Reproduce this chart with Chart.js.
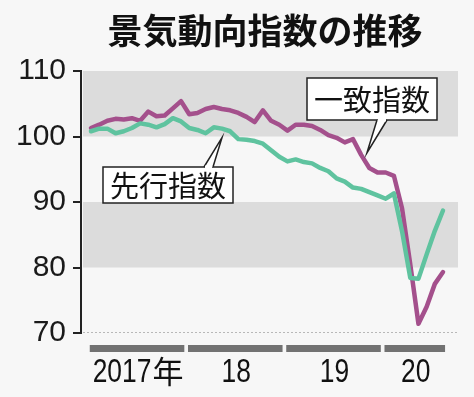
<!DOCTYPE html>
<html>
<head>
<meta charset="utf-8">
<script src="https://cdn.jsdelivr.net/npm/chart.js@4.4.1/dist/chart.umd.min.js"></script>
<style>
  html, body { margin: 0; padding: 0; background: #f7f7f7; }
  #wrap { width: 474px; height: 397px; position: relative; }
</style>
</head>
<body>
<div id="wrap"><canvas id="c" width="474" height="397"></canvas></div>
<script>
// ---- data ----
const months = [
  '2017-01','2017-02','2017-03','2017-04','2017-05','2017-06','2017-07','2017-08','2017-09','2017-10','2017-11','2017-12',
  '2018-01','2018-02','2018-03','2018-04','2018-05','2018-06','2018-07','2018-08','2018-09','2018-10','2018-11','2018-12',
  '2019-01','2019-02','2019-03','2019-04','2019-05','2019-06','2019-07','2019-08','2019-09','2019-10','2019-11','2019-12',
  '2020-01','2020-02','2020-03','2020-04','2020-05','2020-06','2020-07','2020-08'
];
const coincident = [
  101.3, 101.8, 102.4, 102.7, 102.6, 102.8, 102.4, 103.8, 103.1, 103.2, 104.3, 105.4,
  103.4, 103.6, 104.2, 104.5, 104.2, 104.0, 103.6, 103.0, 102.2, 104.0, 102.4, 101.8,
  100.9, 101.8, 101.8, 101.6, 101.0, 100.2, 99.8, 99.1, 99.6, 97.2, 95.2, 94.5,
  94.5, 94.0, 89.0, 80.5, 71.4, 74.0, 77.5, 79.3
];
const leading = [
  100.8, 101.2, 101.2, 100.5, 100.8, 101.3, 102.0, 101.8, 101.4, 101.9, 102.8, 102.3,
  101.3, 101.0, 100.5, 101.4, 101.2, 100.8, 99.6, 99.5, 99.3, 98.9, 97.9, 96.9,
  96.2, 96.5, 96.1, 95.9, 95.2, 94.7, 93.6, 93.1, 92.2, 92.0, 91.5, 91.0,
  90.5, 91.3, 85.5, 78.4, 78.3, 82.0, 85.6, 88.7
];
const yTicks = [70, 80, 90, 100, 110];
const yearLabels = ['2017年', '18', '19', '20'];
const bandRanges = [[100, 110], [80, 90]];
const seriesNames = ['一致指数', '先行指数'];
const titleText = '景気動向指数の推移';

// ---- helpers ----
function toPoints(arr) { return arr.map((v, i) => ({ x: i, y: v })); }

const decor = {
  id: 'decor',
  beforeDraw(chart) {
    const ctx = chart.ctx;
    ctx.save();
    ctx.fillStyle = '#f7f7f7';
    ctx.fillRect(0, 0, chart.width, chart.height);
    ctx.restore();
  },
  beforeDatasetsDraw(chart) {
    const { ctx, chartArea, scales } = chart;
    const y = scales.y;
    ctx.save();
    ctx.fillStyle = '#dcdcdc';
    bandRanges.forEach(([lo, hi]) => {
      const top = y.getPixelForValue(hi);
      const bot = y.getPixelForValue(lo);
      ctx.fillRect(chartArea.left + 2, top, chartArea.right - chartArea.left - 2, bot - top);
    });
    // dotted baseline
    ctx.strokeStyle = '#b8b8b8';
    ctx.lineWidth = 1;
    ctx.setLineDash([2, 2]);
    ctx.beginPath();
    const by = y.getPixelForValue(70) - 0.5;
    ctx.moveTo(chartArea.left + 2, by);
    ctx.lineTo(chartArea.right, by);
    ctx.stroke();
    ctx.restore();
  },
  afterDatasetsDraw(chart) {
    const { ctx, chartArea, scales } = chart;
    const x = scales.x, y = scales.y;
    ctx.save();
    // title
    ctx.fillStyle = '#111';
    ctx.font = 'bold 35px "Noto Sans CJK JP"';
    ctx.textAlign = 'center';
    ctx.textBaseline = 'middle';
    ctx.fillText(titleText, 265, 31);

    // year bars and labels (digits condensed, kanji normal)
    const last = months.length - 1;
    const sx = 0.8;
    const gap = 1;
    yearLabels.forEach((lab, k) => {
      const s = x.getPixelForValue(12 * k - 0.15);
      const e = x.getPixelForValue(Math.min(12 * k + 11.4, last + 0.25));
      ctx.fillStyle = '#727272';
      ctx.fillRect(s, 345, e - s, 7);
      const m = lab.match(/^(\d+)(.*)$/);
      const digits = m ? m[1] : lab;
      const suffix = m ? m[2] : '';
      ctx.fillStyle = '#111';
      ctx.textBaseline = 'middle';
      ctx.textAlign = 'left';
      ctx.font = '33px "Liberation Sans"';
      const dw = ctx.measureText(digits).width * sx;
      ctx.font = '31px "Noto Sans CJK JP"';
      const sw = suffix ? ctx.measureText(suffix).width + gap : 0;
      const cx = (s + e) / 2 + 1;
      let left = cx - (dw + sw) / 2;
      ctx.save();
      ctx.font = '33px "Liberation Sans"';
      ctx.translate(left, 373);
      ctx.scale(sx, 1);
      ctx.fillText(digits, 0, 0);
      ctx.restore();
      if (suffix) {
        ctx.font = '31px "Noto Sans CJK JP"';
        ctx.fillText(suffix, left + dw + gap, 371);
      }
    });

    // callouts
    function callout(bx, byTop, bw, bh, text, base1, base2, tip) {
      ctx.lineWidth = 1.5;
      ctx.strokeStyle = '#222';
      ctx.fillStyle = '#ffffff';
      ctx.fillRect(bx, byTop, bw, bh);
      ctx.strokeRect(bx, byTop, bw, bh);
      // pointer
      ctx.beginPath();
      ctx.moveTo(base1[0], base1[1]);
      ctx.lineTo(tip[0], tip[1]);
      ctx.lineTo(base2[0], base2[1]);
      ctx.closePath();
      ctx.fill();
      ctx.beginPath();
      ctx.moveTo(base1[0], base1[1]);
      ctx.lineTo(tip[0], tip[1]);
      ctx.lineTo(base2[0], base2[1]);
      ctx.stroke();
      // erase box border between bases
      ctx.fillRect(Math.min(base1[0], base2[0]) + 1, base1[1] - 1.5, Math.abs(base2[0] - base1[0]) - 2, 3);
      ctx.fillStyle = '#111';
      ctx.font = '29px "Noto Sans CJK JP"';
      ctx.textAlign = 'center';
      ctx.textBaseline = 'middle';
      ctx.fillText(text, bx + bw / 2, byTop + bh / 2 + 1);
    }
    // 一致指数 box
    const tip1 = [x.getPixelForValue(33.7), y.getPixelForValue(coincident[34]) - 15];
    callout(307, 78, 130, 42, seriesNames[0], [377, 120], [387, 120], tip1);
    // 先行指数 box
    const tip2 = [x.getPixelForValue(16), y.getPixelForValue(leading[16]) + 9];
    callout(103, 167, 130, 36, seriesNames[1], [204, 167], [213, 167], tip2);
    ctx.restore();
  }
};

new Chart(document.getElementById('c'), {
  type: 'line',
  data: {
    labels: months,
    datasets: [
      {
        label: seriesNames[1],
        data: toPoints(leading),
        borderColor: '#5fc39f',
        borderWidth: 4.5,
        pointRadius: 0,
        tension: 0,
        borderJoinStyle: 'round',
        borderCapStyle: 'round'
      },
      {
        label: seriesNames[0],
        data: toPoints(coincident),
        borderColor: '#a4508c',
        borderWidth: 4.5,
        pointRadius: 0,
        tension: 0,
        borderJoinStyle: 'round',
        borderCapStyle: 'round'
      }
    ]
  },
  options: {
    responsive: false,
    animation: false,
    devicePixelRatio: 1,
    layout: { padding: { top: 71, right: 16, bottom: 64, left: 0 } },
    plugins: { legend: { display: false }, title: { display: false }, tooltip: { enabled: false } },
    scales: {
      x: {
        type: 'linear',
        display: false,
        min: -1.22,
        max: 44.83
      },
      y: {
        min: 70,
        max: 110,
        afterBuildTicks(scale) { scale.ticks = yTicks.map(v => ({ value: v })); },
        afterFit(scale) { scale.width = 81; },
        ticks: {
          padding: 7,
          color: '#1a1a1a',
          font: { family: '"Liberation Sans"', size: 30 }
        },
        grid: {
          drawOnChartArea: false,
          drawTicks: true,
          tickLength: 8,
          color: '#222',
          lineWidth: 2
        },
        border: { display: true, color: '#222', width: 2 }
      }
    }
  },
  plugins: [decor]
});
</script>
</body>
</html>
